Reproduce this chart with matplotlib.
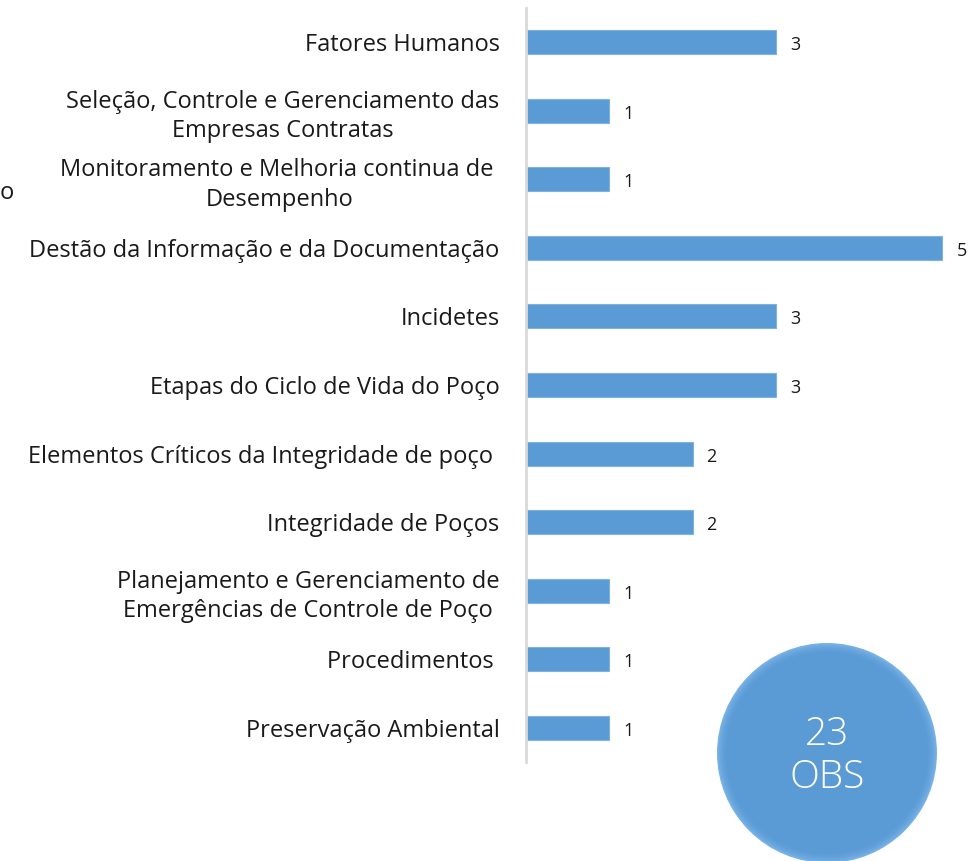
import matplotlib
matplotlib.use("Agg")
import matplotlib.pyplot as plt
import numpy as np
from matplotlib.patches import Circle

categories = [
    "Fatores Humanos",
    "Seleção, Controle e Gerenciamento das\nEmpresas Contratas",
    "Monitoramento e Melhoria continua de \nDesempenho",
    "Destão da Informação e da Documentação",
    "Incidetes",
    "Etapas do Ciclo de Vida do Poço",
    "Elementos Críticos da Integridade de poço ",
    "Integridade de Poços",
    "Planejamento e Gerenciamento de\nEmergências de Controle de Poço",
    "Procedimentos ",
    "Preservação Ambiental",
]
values = [3, 1, 1, 5, 3, 3, 2, 2, 1, 1, 1]
total_text = "23\nOBS"

plt.rcParams['font.family'] = ['Open Sans', 'DejaVu Sans']

W, H = 971, 861
fig = plt.figure(figsize=(W / 100, H / 100), dpi=100)
left, right = 526 / W, 959 / W
top, bottom = 1 - 8 / H, 1 - 762 / H
ax = fig.add_axes([left, bottom, right - left, top - bottom])

y = np.arange(len(categories))
ax.barh(y, values, height=0.35, color="#5b9bd5", edgecolor="#7fb2e0", linewidth=0.8, zorder=2)
ax.set_ylim(len(categories) - 0.5, -0.5)
ax.set_xlim(0, 5.2)
ax.set_yticks(y)
ax.set_yticklabels(categories, fontsize=17, color="#1a1a1a", ha="right", multialignment="center",
                   linespacing=1.3)
ax.tick_params(axis="y", length=0, pad=19)
ax.set_xticks([])
for s in ["top", "right", "bottom"]:
    ax.spines[s].set_visible(False)
ax.spines["left"].set_color("#d9d9d9")
ax.spines["left"].set_linewidth(2)

for yi, v in zip(y, values):
    ax.annotate(str(v), (v, yi), xytext=(14, -3), textcoords="offset pixels",
                ha="left", va="center", fontsize=13, color="#1a1a1a", annotation_clip=False)

# stray clipped label fragment at the left edge
fig.text(0 / W, 1 - 193 / H, "o", fontsize=17, color="#1a1a1a", ha="left", va="center")

# decorative circle
cax = fig.add_axes([0, 0, 1, 1], zorder=5)
cax.set_xlim(0, W)
cax.set_ylim(H, 0)
cax.axis("off")
cx, cy, r = 827, 753, 110
gx, gy = np.meshgrid(np.linspace(cx - r, cx + r, 400), np.linspace(cy - r, cy + r, 400))
d = np.sqrt((gx - cx) ** 2 + (gy - cy) ** 2) / r
base = np.array([0x5b, 0x9b, 0xd5]) / 255
light = np.array([0x7a, 0xb4, 0xe8]) / 255
t = (np.clip((d - 0.9) / 0.1, 0, 1) ** 2)[..., None]
img = base * (1 - t) + light * t
im = cax.imshow(img, extent=(cx - r, cx + r, cy + r, cy - r), zorder=5)
clip = Circle((cx, cy), r, transform=cax.transData)
im.set_clip_path(clip)
cax.text(cx, cy + 3, total_text, ha="center", va="center", fontsize=28, color="white",
         fontweight="light", linespacing=1.15, zorder=6)

fig.savefig("out.png", dpi=100)
